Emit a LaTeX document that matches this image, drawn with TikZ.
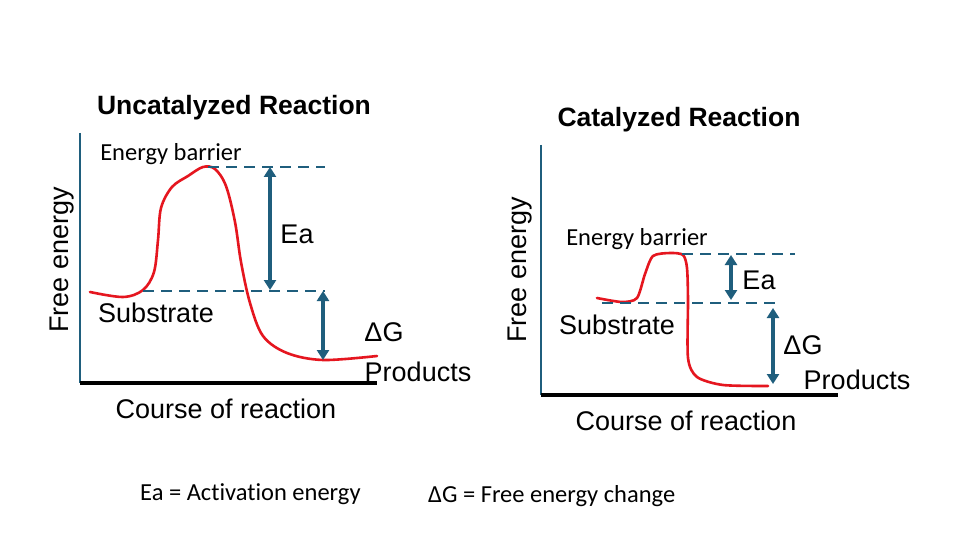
\documentclass[tikz,border=0pt]{standalone}
\usepackage{fontspec}
\setmainfont{Liberation Sans}
\newfontfamily\aptos[Ligatures=NoCommon]{Carlito}
\usetikzlibrary{arrows.meta}
\definecolor{axisblue}{HTML}{1F5E7D}
\definecolor{curvered}{HTML}{E5161F}
\tikzset{
  yaxis/.style={draw=axisblue, line width=2.4pt},
  xaxis/.style={draw=black, line width=3.6pt},
  level/.style={draw=axisblue, line width=2pt, dash pattern=on 11pt off 7pt},
  gap/.style={draw=axisblue, line width=3.2pt, {Triangle[length=10pt,width=12pt]}-{Triangle[length=10pt,width=12pt]}},
  curve/.style={draw=curvered, line width=2.6pt, line cap=round},
  lbl/.style={font=\fontsize{27}{30}\selectfont, inner sep=0pt},
  slbl/.style={font=\aptos\fontsize{24.5}{28}\selectfont, inner sep=0pt},
  ttl/.style={font=\bfseries\fontsize{26.5}{30}\selectfont, inner sep=0pt},
}
\begin{document}
\begin{tikzpicture}[x=1pt,y=-1pt]
\useasboundingbox[fill=white] (0,0) rectangle (960,540);

% ---------- Uncatalyzed ----------
\node[ttl] (t1) at (234,108) {Uncatalyzed Reaction};
\coordinate (ya1) at (80,133);
\coordinate (o1) at (80,383);
\coordinate (xa1) at (377,383);
\draw[yaxis] (ya1) -- (o1);
\draw[xaxis] (o1) -- (xa1);
\node[lbl, rotate=90] (fe1) at (62,260) {Free energy};
\node[lbl] (cr1) at (226,409) {Course of reaction};

\draw[curve] plot[smooth, tension=0.55] coordinates {(90,292) (123,297) (143,290) (154,272) (158,240) (161,208) (172,187) (188,176) (203,167) (215,169) (226,186) (235,222) (241,262) (250,303) (263,336) (287,353) (323,360) (377,356)};

\coordinate (top1a) at (208,167);
\coordinate (top1b) at (325,167);
\coordinate (mid1a) at (143,291);
\coordinate (mid1b) at (325,291);
\draw[level] (top1a) -- (top1b);
\draw[level] (mid1a) -- (mid1b);
\coordinate (ea1t) at (270,167);
\coordinate (ea1b) at (270,290);
\draw[gap] (ea1t) -- (ea1b);
\coordinate (dg1t) at (323,291);
\coordinate (dg1b) at (323,360);
\draw[gap] (dg1t) -- (dg1b);

\node[slbl] (eb1) at (171,154) {Energy barrier};
\node[lbl] (ea1) at (297,234) {Ea};
\node[lbl] (su1) at (156,313) {Substrate};
\node[lbl] (dg1) at (384,332) {ΔG};
\node[lbl] (pr1) at (418,372) {Products};

% ---------- Catalyzed ----------
\node[ttl] (t2) at (679,120) {Catalyzed Reaction};
\coordinate (ya2) at (541,145);
\coordinate (o2) at (541,395);
\coordinate (xa2) at (838,395);
\draw[yaxis] (ya2) -- (o2);
\draw[xaxis] (o2) -- (xa2);
\node[lbl, rotate=90] (fe2) at (520,270) {Free energy};
\node[lbl] (cr2) at (686,421) {Course of reaction};

\draw[curve] plot[smooth, tension=0.45] coordinates {(597,298) (622,302) (637,298) (645,274) (653,256) (670,253) (683,255) (687,268) (688,300) (688,358) (697,377) (723,385) (768,386)};

\coordinate (top2a) at (682,254);
\coordinate (top2b) at (795,254);
\coordinate (mid2a) at (602,303);
\coordinate (mid2b) at (782,303);
\draw[level] (top2a) -- (top2b);
\draw[level] (mid2a) -- (mid2b);
\coordinate (ea2t) at (731,255);
\coordinate (ea2b) at (731,300);
\draw[gap] (ea2t) -- (ea2b);
\coordinate (dg2t) at (773,308);
\coordinate (dg2b) at (773,384);
\draw[gap] (dg2t) -- (dg2b);

\node[slbl] (eb2) at (637,239) {Energy barrier};
\node[lbl] (ea2) at (759,280) {Ea};
\node[lbl] (su2) at (617,325) {Substrate};
\node[lbl] (dg2) at (803,345) {ΔG};
\node[lbl] (pr2) at (857,380) {Products};

% ---------- Legend ----------
\node[slbl, anchor=west] (lg1) at (140,494) {Ea = Activation energy};
\node[slbl, anchor=west] (lg2) at (428,496) {ΔG = Free energy change};
\end{tikzpicture}
\end{document}
